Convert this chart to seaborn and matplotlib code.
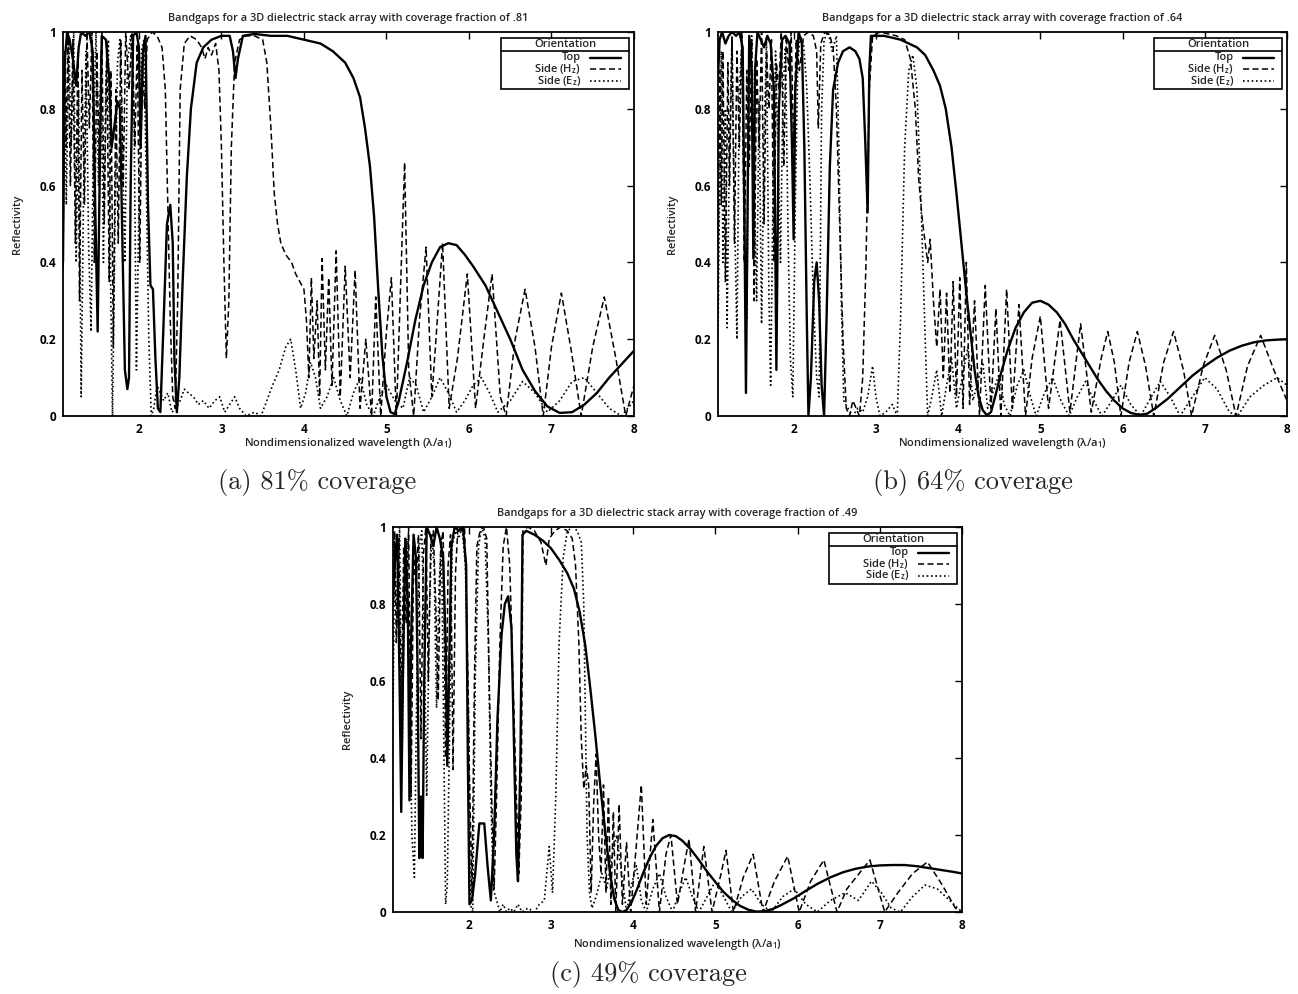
import matplotlib
matplotlib.use("Agg")
import matplotlib.pyplot as plt
import pandas as pd
import seaborn as sns
from matplotlib.lines import Line2D
from matplotlib.patches import Rectangle
from matplotlib.ticker import FuncFormatter, FixedLocator

# ---------------------------------------------------------------------------
# Reflectivity spectra (wavelength, reflectivity) for each orientation
# ---------------------------------------------------------------------------
TOP_81 = [
    (1.08, 0.40), (1.10, 0.92), (1.13, 1.00), (1.16, 0.98), (1.20, 0.93), (1.24, 0.86), (1.27, 0.96),
    (1.30, 1.00), (1.35, 0.99), (1.40, 1.00), (1.44, 0.95), (1.47, 0.55), (1.50, 0.22), (1.52, 0.55),
    (1.55, 0.99), (1.60, 0.98), (1.64, 0.88), (1.67, 0.70), (1.70, 0.75), (1.74, 0.82), (1.77, 0.80),
    (1.80, 0.45), (1.83, 0.12), (1.86, 0.07), (1.88, 0.10), (1.90, 0.60), (1.93, 0.99), (1.97, 1.00),
    (2.00, 0.96), (2.02, 0.70), (2.05, 0.95), (2.08, 0.99), (2.11, 0.55), (2.14, 0.34), (2.17, 0.33),
    (2.20, 0.15), (2.23, 0.02), (2.26, 0.01), (2.30, 0.25), (2.34, 0.50), (2.38, 0.55), (2.41, 0.45),
    (2.43, 0.15), (2.46, 0.01), (2.49, 0.10), (2.53, 0.35), (2.58, 0.62), (2.63, 0.80), (2.70, 0.92),
    (2.78, 0.96), (2.88, 0.98), (3.00, 0.99), (3.10, 0.99), (3.14, 0.95), (3.17, 0.88), (3.20, 0.93),
    (3.26, 0.99), (3.40, 0.995), (3.60, 0.99), (3.80, 0.99), (4.00, 0.98), (4.20, 0.97), (4.35, 0.95),
    (4.50, 0.92), (4.60, 0.88), (4.68, 0.83), (4.74, 0.75), (4.80, 0.65), (4.85, 0.52), (4.90, 0.33),
    (4.95, 0.16), (5.00, 0.05), (5.05, 0.01), (5.10, 0.005), (5.15, 0.04), (5.25, 0.14), (5.35, 0.25),
    (5.45, 0.34), (5.55, 0.40), (5.65, 0.44), (5.75, 0.45), (5.85, 0.445), (5.95, 0.42), (6.05, 0.39),
    (6.20, 0.34), (6.35, 0.27), (6.50, 0.20), (6.65, 0.12), (6.80, 0.065), (6.95, 0.025), (7.10, 0.008),
    (7.25, 0.01), (7.40, 0.03), (7.55, 0.06), (7.70, 0.10), (7.85, 0.135), (8.00, 0.17),
]
HZ_81 = [
    (1.08, 0.38), (1.10, 0.95), (1.12, 0.70), (1.14, 1.00), (1.17, 0.60), (1.20, 0.98), (1.23, 0.45),
    (1.26, 0.95), (1.28, 0.30), (1.31, 0.90), (1.34, 0.55), (1.37, 1.00), (1.40, 0.75), (1.43, 1.00),
    (1.46, 0.40), (1.49, 0.95), (1.52, 0.65), (1.55, 1.00), (1.58, 0.50), (1.61, 0.97), (1.64, 0.35),
    (1.66, 0.90), (1.69, 0.18), (1.72, 0.85), (1.75, 0.45), (1.78, 0.98), (1.81, 0.60), (1.84, 1.00),
    (1.88, 0.85), (1.92, 1.00), (1.95, 0.70), (1.98, 0.97), (2.01, 0.40), (2.04, 0.92), (2.07, 0.80),
    (2.10, 0.98), (2.16, 1.00), (2.22, 0.99), (2.28, 0.96), (2.32, 0.85), (2.35, 0.55), (2.38, 0.25),
    (2.41, 0.05), (2.44, 0.02), (2.47, 0.30), (2.50, 0.85), (2.55, 0.97), (2.62, 0.99), (2.70, 0.98),
    (2.76, 0.96), (2.80, 0.93), (2.84, 0.96), (2.88, 0.94), (2.93, 0.97), (2.97, 0.90), (3.00, 0.70),
    (3.03, 0.40), (3.06, 0.15), (3.09, 0.30), (3.12, 0.70), (3.16, 0.92), (3.22, 0.98), (3.30, 0.99),
    (3.40, 0.99), (3.50, 0.98), (3.55, 0.92), (3.60, 0.75), (3.64, 0.58), (3.68, 0.50), (3.72, 0.45),
    (3.78, 0.42), (3.85, 0.40), (3.90, 0.37), (3.95, 0.35), (4.00, 0.33), (4.03, 0.25), (4.06, 0.10),
    (4.09, 0.36), (4.12, 0.15), (4.16, 0.30), (4.19, 0.05), (4.22, 0.41), (4.26, 0.12), (4.30, 0.36),
    (4.34, 0.08), (4.39, 0.43), (4.44, 0.05), (4.50, 0.39), (4.56, 0.10), (4.62, 0.38), (4.68, 0.02),
    (4.75, 0.20), (4.82, 0.00), (4.87, 0.31), (4.93, 0.00), (5.00, 0.22), (5.06, 0.36), (5.12, 0.00),
    (5.18, 0.40), (5.22, 0.66), (5.27, 0.12), (5.33, 0.00), (5.40, 0.25), (5.48, 0.44), (5.55, 0.05),
    (5.60, 0.20), (5.68, 0.45), (5.76, 0.02), (5.86, 0.15), (5.98, 0.37), (6.08, 0.02), (6.18, 0.20),
    (6.28, 0.37), (6.38, 0.05), (6.45, 0.00), (6.56, 0.20), (6.68, 0.33), (6.80, 0.18), (6.90, 0.00),
    (7.00, 0.18), (7.12, 0.32), (7.24, 0.17), (7.36, 0.00), (7.50, 0.18), (7.64, 0.31), (7.78, 0.15),
    (7.90, 0.00), (8.00, 0.08),
]
EZ_81 = [
    (1.08, 0.45), (1.10, 0.90), (1.12, 0.55), (1.15, 0.98), (1.18, 0.70), (1.21, 1.00), (1.24, 0.40),
    (1.27, 0.85), (1.30, 0.05), (1.33, 0.60), (1.36, 0.95), (1.39, 0.45), (1.42, 0.22), (1.45, 0.75),
    (1.48, 1.00), (1.51, 0.60), (1.54, 0.95), (1.57, 0.40), (1.60, 0.88), (1.63, 0.98), (1.66, 0.30),
    (1.68, 0.00), (1.71, 0.50), (1.74, 0.92), (1.77, 0.98), (1.80, 0.70), (1.83, 0.40), (1.86, 0.92),
    (1.90, 0.99), (1.94, 0.80), (1.97, 0.12), (2.00, 0.55), (2.03, 0.95), (2.06, 0.98), (2.09, 0.60),
    (2.12, 0.20), (2.15, 0.00), (2.18, 0.02), (2.22, 0.08), (2.26, 0.06), (2.30, 0.04), (2.35, 0.06),
    (2.40, 0.01), (2.45, 0.02), (2.50, 0.04), (2.55, 0.07), (2.60, 0.06), (2.66, 0.05), (2.72, 0.03),
    (2.78, 0.04), (2.85, 0.02), (2.92, 0.04), (2.98, 0.05), (3.04, 0.01), (3.10, 0.03), (3.16, 0.05),
    (3.22, 0.02), (3.30, 0.00), (3.40, 0.01), (3.48, 0.00), (3.55, 0.04), (3.62, 0.08), (3.70, 0.12),
    (3.78, 0.18), (3.84, 0.20), (3.90, 0.12), (3.96, 0.02), (4.02, 0.06), (4.08, 0.14), (4.14, 0.10),
    (4.20, 0.02), (4.28, 0.05), (4.36, 0.10), (4.44, 0.04), (4.52, 0.00), (4.60, 0.06), (4.68, 0.10),
    (4.76, 0.03), (4.84, 0.00), (4.92, 0.05), (5.00, 0.08), (5.10, 0.04), (5.20, 0.02), (5.28, 0.10),
    (5.36, 0.08), (5.45, 0.01), (5.55, 0.05), (5.65, 0.10), (5.75, 0.06), (5.85, 0.01), (5.95, 0.04),
    (6.05, 0.08), (6.15, 0.10), (6.25, 0.06), (6.35, 0.01), (6.50, 0.04), (6.65, 0.09), (6.80, 0.06),
    (6.95, 0.01), (7.10, 0.04), (7.25, 0.09), (7.40, 0.10), (7.55, 0.06), (7.70, 0.02), (7.85, 0.00),
    (8.00, 0.04),
]

TOP_64 = [
    (1.08, 0.88), (1.10, 0.98), (1.13, 1.00), (1.17, 0.97), (1.21, 0.99), (1.25, 1.00), (1.30, 0.99),
    (1.34, 1.00), (1.38, 0.96), (1.40, 0.55), (1.42, 0.06), (1.44, 0.55), (1.46, 0.99), (1.49, 0.90),
    (1.51, 0.41), (1.53, 0.90), (1.56, 1.00), (1.60, 0.98), (1.64, 0.96), (1.68, 0.99), (1.72, 0.97),
    (1.76, 0.85), (1.79, 0.12), (1.82, 0.80), (1.86, 0.98), (1.90, 0.99), (1.95, 0.97), (1.98, 0.70),
    (2.00, 0.46), (2.02, 0.85), (2.06, 1.00), (2.10, 0.97), (2.13, 0.70), (2.16, 0.25), (2.18, 0.00),
    (2.21, 0.10), (2.25, 0.35), (2.28, 0.40), (2.31, 0.30), (2.34, 0.08), (2.37, 0.00), (2.40, 0.25),
    (2.44, 0.65), (2.48, 0.85), (2.54, 0.92), (2.60, 0.95), (2.68, 0.96), (2.75, 0.95), (2.80, 0.93),
    (2.84, 0.88), (2.87, 0.72), (2.90, 0.53), (2.92, 0.90), (2.94, 0.99), (3.00, 0.99), (3.10, 0.99),
    (3.20, 0.985), (3.30, 0.98), (3.40, 0.97), (3.50, 0.96), (3.60, 0.94), (3.70, 0.90), (3.78, 0.86),
    (3.85, 0.80), (3.92, 0.70), (3.98, 0.58), (4.04, 0.45), (4.10, 0.32), (4.15, 0.22), (4.20, 0.12),
    (4.25, 0.05), (4.30, 0.015), (4.35, 0.002), (4.40, 0.01), (4.45, 0.05), (4.52, 0.11), (4.60, 0.17),
    (4.70, 0.23), (4.80, 0.27), (4.90, 0.295), (5.00, 0.30), (5.10, 0.29), (5.20, 0.27), (5.30, 0.24),
    (5.40, 0.20), (5.50, 0.165), (5.60, 0.13), (5.70, 0.095), (5.80, 0.065), (5.90, 0.04), (6.00, 0.02),
    (6.10, 0.008), (6.20, 0.003), (6.30, 0.006), (6.40, 0.02), (6.55, 0.045), (6.70, 0.075), (6.85, 0.105),
    (7.00, 0.13), (7.15, 0.152), (7.30, 0.17), (7.45, 0.183), (7.60, 0.192), (7.75, 0.197), (7.90, 0.199),
    (8.00, 0.20),
]
HZ_64 = [
    (1.08, 0.30), (1.10, 0.90), (1.12, 0.55), (1.14, 0.95), (1.17, 0.35), (1.20, 0.92), (1.22, 0.60),
    (1.25, 0.98), (1.28, 0.45), (1.31, 0.95), (1.34, 0.70), (1.37, 1.00), (1.40, 0.40), (1.43, 0.90),
    (1.46, 0.65), (1.49, 0.98), (1.52, 0.30), (1.55, 0.93), (1.58, 0.70), (1.61, 1.00), (1.64, 0.50),
    (1.67, 0.95), (1.70, 0.80), (1.73, 0.98), (1.76, 0.40), (1.79, 0.92), (1.82, 0.85), (1.85, 1.00),
    (1.88, 0.65), (1.91, 0.99), (1.94, 0.90), (1.97, 1.00), (2.00, 0.70), (2.03, 0.98), (2.07, 0.90),
    (2.12, 0.99), (2.18, 1.00), (2.24, 0.99), (2.28, 0.95), (2.30, 0.75), (2.33, 0.97), (2.38, 1.00),
    (2.44, 0.99), (2.48, 0.96), (2.52, 0.80), (2.56, 0.50), (2.60, 0.20), (2.64, 0.02), (2.68, 0.00),
    (2.72, 0.04), (2.76, 0.02), (2.80, 0.00), (2.84, 0.10), (2.88, 0.40), (2.92, 0.85), (2.96, 0.99),
    (3.05, 1.00), (3.15, 0.995), (3.25, 0.99), (3.35, 0.98), (3.42, 0.93), (3.48, 0.80), (3.52, 0.62),
    (3.56, 0.52), (3.60, 0.45), (3.63, 0.40), (3.66, 0.46), (3.70, 0.30), (3.74, 0.18), (3.78, 0.33),
    (3.82, 0.10), (3.86, 0.32), (3.90, 0.06), (3.94, 0.35), (3.98, 0.05), (4.02, 0.36), (4.06, 0.02),
    (4.10, 0.40), (4.14, 0.03), (4.20, 0.30), (4.26, 0.00), (4.33, 0.34), (4.40, 0.02), (4.46, 0.28),
    (4.52, 0.00), (4.59, 0.33), (4.66, 0.02), (4.74, 0.29), (4.82, 0.00), (4.90, 0.15), (5.00, 0.26),
    (5.10, 0.02), (5.24, 0.25), (5.36, 0.01), (5.49, 0.24), (5.62, 0.01), (5.74, 0.15), (5.82, 0.22),
    (5.90, 0.14), (5.98, 0.00), (6.08, 0.14), (6.18, 0.22), (6.28, 0.13), (6.38, 0.00), (6.50, 0.14),
    (6.62, 0.22), (6.74, 0.12), (6.84, 0.00), (6.98, 0.13), (7.12, 0.21), (7.26, 0.12), (7.38, 0.00),
    (7.52, 0.13), (7.68, 0.21), (7.84, 0.12), (8.00, 0.04),
]
EZ_64 = [
    (1.08, 0.20), (1.10, 0.60), (1.12, 0.95), (1.14, 0.40), (1.17, 0.80), (1.19, 0.23), (1.22, 0.70),
    (1.25, 0.99), (1.28, 0.55), (1.31, 0.20), (1.34, 0.85), (1.37, 0.97), (1.40, 0.50), (1.43, 0.25),
    (1.46, 0.88), (1.49, 0.99), (1.52, 0.60), (1.55, 0.30), (1.58, 0.82), (1.61, 0.24), (1.64, 0.72),
    (1.67, 0.98), (1.70, 0.30), (1.72, 0.08), (1.75, 0.60), (1.78, 0.95), (1.81, 0.70), (1.84, 0.40),
    (1.87, 0.85), (1.90, 0.96), (1.93, 0.50), (1.96, 0.15), (1.99, 0.05), (2.02, 0.55), (2.05, 0.92),
    (2.08, 0.99), (2.12, 0.97), (2.16, 0.85), (2.20, 0.60), (2.24, 0.30), (2.28, 0.10), (2.31, 0.05),
    (2.34, 0.80), (2.37, 0.98), (2.42, 1.00), (2.47, 0.95), (2.52, 0.99), (2.55, 0.70), (2.58, 0.30),
    (2.61, 0.04), (2.66, 0.02), (2.72, 0.00), (2.78, 0.02), (2.84, 0.01), (2.90, 0.05), (2.96, 0.13),
    (3.00, 0.05), (3.05, 0.00), (3.12, 0.01), (3.20, 0.03), (3.26, 0.00), (3.30, 0.25), (3.35, 0.70),
    (3.40, 0.90), (3.45, 0.94), (3.50, 0.85), (3.55, 0.55), (3.60, 0.20), (3.63, 0.00), (3.68, 0.05),
    (3.74, 0.12), (3.80, 0.00), (3.86, 0.08), (3.92, 0.15), (3.98, 0.02), (4.05, 0.10), (4.12, 0.18),
    (4.18, 0.04), (4.24, 0.09), (4.30, 0.14), (4.36, 0.02), (4.42, 0.06), (4.50, 0.11), (4.56, 0.03),
    (4.63, 0.00), (4.72, 0.08), (4.80, 0.12), (4.88, 0.05), (4.95, 0.00), (5.05, 0.06), (5.15, 0.10),
    (5.25, 0.04), (5.35, 0.00), (5.45, 0.05), (5.55, 0.09), (5.65, 0.04), (5.75, 0.00), (5.87, 0.04),
    (5.98, 0.08), (6.10, 0.03), (6.22, 0.00), (6.35, 0.05), (6.46, 0.09), (6.58, 0.05), (6.70, 0.00),
    (6.85, 0.05), (7.00, 0.10), (7.15, 0.07), (7.30, 0.01), (7.40, 0.00), (7.55, 0.05), (7.72, 0.08),
    (7.88, 0.10), (8.00, 0.08),
]

TOP_49 = [
    (1.08, 0.80), (1.10, 0.90), (1.13, 0.98), (1.16, 0.60), (1.18, 0.26), (1.20, 0.60), (1.23, 0.97),
    (1.26, 0.80), (1.28, 0.29), (1.30, 0.70), (1.33, 0.98), (1.36, 0.92), (1.38, 0.60), (1.40, 0.14),
    (1.42, 0.30), (1.44, 0.14), (1.46, 0.60), (1.49, 1.00), (1.53, 0.98), (1.57, 0.95), (1.61, 1.00),
    (1.65, 0.97), (1.69, 0.92), (1.72, 0.70), (1.74, 0.38), (1.76, 0.60), (1.79, 0.95), (1.83, 1.00),
    (1.88, 0.99), (1.93, 1.00), (1.97, 0.90), (1.99, 0.40), (2.01, 0.02), (2.04, 0.03), (2.08, 0.10),
    (2.13, 0.23), (2.19, 0.23), (2.23, 0.12), (2.27, 0.03), (2.31, 0.20), (2.35, 0.50), (2.40, 0.72),
    (2.44, 0.80), (2.48, 0.82), (2.52, 0.74), (2.55, 0.45), (2.58, 0.15), (2.60, 0.08), (2.63, 0.40),
    (2.655, 0.98), (2.70, 0.99), (2.80, 0.98), (2.90, 0.965), (3.00, 0.945), (3.10, 0.915), (3.20, 0.88),
    (3.28, 0.84), (3.35, 0.78), (3.42, 0.69), (3.48, 0.58), (3.54, 0.46), (3.60, 0.33), (3.66, 0.21),
    (3.72, 0.10), (3.77, 0.035), (3.82, 0.005), (3.87, 0.00), (3.92, 0.005), (3.98, 0.025), (4.05, 0.06),
    (4.12, 0.10), (4.20, 0.14), (4.28, 0.172), (4.36, 0.192), (4.44, 0.20), (4.52, 0.197), (4.60, 0.185),
    (4.70, 0.163), (4.80, 0.135), (4.90, 0.105), (5.00, 0.078), (5.10, 0.052), (5.20, 0.032), (5.30, 0.016),
    (5.40, 0.006), (5.50, 0.001), (5.60, 0.002), (5.70, 0.008), (5.80, 0.018), (5.95, 0.035), (6.10, 0.055),
    (6.25, 0.074), (6.40, 0.09), (6.55, 0.103), (6.70, 0.112), (6.85, 0.118), (7.00, 0.121), (7.15, 0.122),
    (7.30, 0.122), (7.45, 0.119), (7.60, 0.114), (7.75, 0.109), (7.90, 0.104), (8.00, 0.10),
]
HZ_49 = [
    (1.08, 0.85), (1.10, 0.99), (1.12, 0.70), (1.15, 0.97), (1.18, 0.50), (1.21, 0.95), (1.24, 0.75),
    (1.27, 1.00), (1.30, 0.30), (1.33, 0.92), (1.36, 0.85), (1.39, 0.98), (1.42, 0.45), (1.45, 0.93),
    (1.48, 1.00), (1.51, 0.60), (1.54, 0.97), (1.57, 0.99), (1.60, 0.80), (1.63, 0.55), (1.66, 0.95),
    (1.69, 0.99), (1.72, 0.40), (1.75, 0.90), (1.78, 0.98), (1.81, 0.37), (1.84, 0.88), (1.87, 1.00),
    (1.91, 0.99), (1.95, 1.00), (1.98, 0.75), (2.01, 0.35), (2.04, 0.05), (2.07, 0.60), (2.10, 0.95),
    (2.14, 0.99), (2.18, 1.00), (2.22, 0.97), (2.25, 0.60), (2.28, 0.30), (2.31, 0.06), (2.34, 0.30),
    (2.38, 0.70), (2.42, 0.95), (2.46, 1.00), (2.50, 0.90), (2.54, 0.60), (2.58, 0.30), (2.61, 0.10),
    (2.64, 0.30), (2.66, 0.99), (2.72, 1.00), (2.80, 0.99), (2.88, 0.96), (2.94, 0.90), (2.98, 0.97),
    (3.05, 0.99), (3.12, 1.00), (3.20, 0.99), (3.26, 0.97), (3.30, 0.90), (3.34, 0.70), (3.37, 0.45),
    (3.40, 0.32), (3.43, 0.38), (3.46, 0.33), (3.49, 0.05), (3.52, 0.28), (3.55, 0.41), (3.58, 0.20),
    (3.61, 0.10), (3.64, 0.33), (3.67, 0.05), (3.70, 0.30), (3.73, 0.02), (3.76, 0.26), (3.79, 0.00),
    (3.83, 0.28), (3.87, 0.02), (3.92, 0.18), (3.97, 0.00), (4.03, 0.15), (4.10, 0.33), (4.16, 0.02),
    (4.24, 0.24), (4.32, 0.00), (4.40, 0.15), (4.46, 0.20), (4.54, 0.02), (4.62, 0.12), (4.68, 0.19),
    (4.76, 0.00), (4.86, 0.17), (4.96, 0.00), (5.07, 0.10), (5.13, 0.16), (5.22, 0.00), (5.34, 0.09),
    (5.46, 0.15), (5.58, 0.00), (5.72, 0.08), (5.88, 0.145), (6.02, 0.00), (6.16, 0.08), (6.32, 0.135),
    (6.48, 0.00), (6.60, 0.06), (6.88, 0.135), (7.06, 0.00), (7.22, 0.05), (7.40, 0.10), (7.58, 0.13),
    (7.76, 0.07), (7.92, 0.01), (8.00, 0.00),
]
EZ_49 = [
    (1.08, 0.50), (1.10, 0.95), (1.13, 0.75), (1.16, 1.00), (1.19, 0.40), (1.22, 0.85), (1.25, 0.97),
    (1.28, 0.60), (1.31, 0.20), (1.34, 0.09), (1.37, 0.60), (1.40, 0.95), (1.43, 0.99), (1.46, 0.70),
    (1.49, 0.30), (1.52, 0.75), (1.55, 0.98), (1.58, 0.90), (1.61, 0.53), (1.64, 0.85), (1.67, 0.97),
    (1.70, 0.40), (1.72, 0.02), (1.74, 0.07), (1.77, 0.50), (1.80, 0.95), (1.84, 0.99), (1.88, 0.97),
    (1.92, 1.00), (1.96, 0.90), (2.00, 0.50), (2.02, 0.02), (2.05, 0.00), (2.08, 0.60), (2.12, 0.95),
    (2.16, 1.00), (2.20, 0.97), (2.24, 0.70), (2.27, 0.30), (2.30, 0.06), (2.34, 0.03), (2.38, 0.00),
    (2.42, 0.02), (2.46, 0.00), (2.50, 0.01), (2.55, 0.00), (2.60, 0.02), (2.65, 0.00), (2.72, 0.01),
    (2.80, 0.00), (2.86, 0.02), (2.92, 0.03), (2.98, 0.17), (3.02, 0.05), (3.06, 0.30), (3.10, 0.70),
    (3.15, 0.92), (3.20, 0.99), (3.27, 1.00), (3.32, 0.99), (3.37, 0.96), (3.40, 0.80), (3.42, 0.50),
    (3.44, 0.20), (3.47, 0.05), (3.50, 0.01), (3.55, 0.04), (3.62, 0.10), (3.68, 0.06), (3.74, 0.14),
    (3.80, 0.20), (3.86, 0.10), (3.92, 0.00), (3.98, 0.07), (4.04, 0.12), (4.10, 0.03), (4.16, 0.00),
    (4.24, 0.06), (4.32, 0.10), (4.40, 0.04), (4.48, 0.00), (4.56, 0.05), (4.64, 0.09), (4.72, 0.04),
    (4.80, 0.00), (4.90, 0.04), (5.00, 0.08), (5.10, 0.04), (5.20, 0.00), (5.32, 0.04), (5.44, 0.06),
    (5.56, 0.02), (5.68, 0.00), (5.82, 0.04), (5.96, 0.06), (6.10, 0.02), (6.24, 0.00), (6.40, 0.03),
    (6.58, 0.05), (6.74, 0.03), (6.90, 0.08), (7.02, 0.05), (7.14, 0.01), (7.25, 0.00), (7.40, 0.04),
    (7.55, 0.07), (7.70, 0.06), (7.85, 0.03), (8.00, 0.00),
]

ORIENTATIONS = ["Top", "Side (H$_z$)", "Side (E$_z$)"]
COVERAGES = [".81", ".64", ".49"]
CAPTIONS = ["(a) 81% coverage", "(b) 64% coverage", "(c) 49% coverage"]
X_TICKS = [2, 3, 4, 5, 6, 7, 8]
Y_TICKS = [0, 0.2, 0.4, 0.6, 0.8, 1]

SPECTRA = {
    ".81": [TOP_81, HZ_81, EZ_81],
    ".64": [TOP_64, HZ_64, EZ_64],
    ".49": [TOP_49, HZ_49, EZ_49],
}

# line styling per orientation
DASHES = {"Top": "", "Side (H$_z$)": (4.0, 2.2), "Side (E$_z$)": (1.0, 1.6)}
WIDTHS = {"Top": 1.7, "Side (H$_z$)": 1.1, "Side (E$_z$)": 1.2}

sns.set_theme(style="white")
plt.rcParams["font.family"] = ["Open Sans", "DejaVu Sans"]
plt.rcParams["mathtext.default"] = "regular"

FIG_W, FIG_H = 1298, 994
fig = plt.figure(figsize=(FIG_W / 100, FIG_H / 100), dpi=100)

# axes boxes in pixels: left, top, right, bottom
BOXES = [(63, 32, 634, 416), (718, 32, 1287, 416), (393, 527, 962, 912)]
XLABEL_PADS = [0, 0, 4]
axes = [fig.add_axes([l / FIG_W, 1 - b / FIG_H, (r - l) / FIG_W, (b - t) / FIG_H])
        for l, t, r, b in BOXES]


def spectrum_frame(coverage):
    rows = []
    for name, series in zip(ORIENTATIONS, SPECTRA[coverage]):
        for x, y in series:
            rows.append({"wavelength": x, "reflectivity": y, "orientation": name})
    return pd.DataFrame(rows)


def key_box(ax, box):
    """gnuplot-style key: framed, headed by a ruled title, labels right-aligned before samples."""
    l, t, r, b = box
    w, h = r - l, b - t

    def fx(dx):  # pixels left of the right spine -> axes fraction
        return 1 - dx / w

    def fy(dy):  # pixels below the top spine -> axes fraction
        return 1 - dy / h

    kw = dict(transform=ax.transAxes, clip_on=False, zorder=10)
    ax.add_patch(Rectangle((fx(133), fy(57)), 128 / w, 51 / h, facecolor="white",
                           edgecolor="black", lw=1.2, **kw))
    ax.add_line(Line2D([fx(133), fx(5)], [fy(19), fy(19)], color="black", lw=1.2, **kw))
    ax.text(fx(69), fy(12.5), "Orientation", ha="center", va="center", fontsize=8,
            fontweight="semibold", **kw)
    for i, o in enumerate(ORIENTATIONS):
        yy = fy(25.5 + 11.5 * i)
        ax.text(fx(53), yy, o, ha="right", va="center", fontsize=8, fontweight="semibold", **kw)
        ln = Line2D([fx(44), fx(13)], [yy, yy], color="black", lw=WIDTHS[o], **kw)
        if DASHES[o]:
            ln.set_dashes(DASHES[o])
        ax.add_line(ln)


for ax, box, cov, xpad in zip(axes, BOXES, COVERAGES, XLABEL_PADS):
    df = spectrum_frame(cov)
    sns.lineplot(
        data=df, x="wavelength", y="reflectivity",
        style="orientation", style_order=ORIENTATIONS, dashes=DASHES,
        size="orientation", size_order=ORIENTATIONS, sizes=WIDTHS,
        color="black", estimator=None, sort=False, legend=False, ax=ax,
    )
    ax.set_xlim(1.08, 8)
    ax.set_ylim(0, 1)
    ax.xaxis.set_major_locator(FixedLocator(X_TICKS))
    ax.yaxis.set_major_locator(FixedLocator(Y_TICKS))
    ax.yaxis.set_major_formatter(FuncFormatter(lambda v, p: f"{v:g}"))
    ax.tick_params(direction="in", top=True, right=True, length=5, width=1.0,
                   labelsize=8.5, pad=5, colors="black")
    for lab in ax.get_xticklabels() + ax.get_yticklabels():
        lab.set_fontweight("bold")
    for sp in ax.spines.values():
        sp.set_color("black")
        sp.set_linewidth(1.3)
    ax.set_title(f"Bandgaps for a 3D dielectric stack array with coverage fraction of {cov}",
                 fontsize=7.8, pad=8, fontweight="semibold")
    ax.set_xlabel(r"Nondimensionalized wavelength ($\lambda$/a$_1$)", fontsize=8,
                  labelpad=xpad, fontweight="semibold")
    ax.set_ylabel("Reflectivity", fontsize=8, labelpad=12, fontweight="semibold")
    key_box(ax, box)

# captions under each panel
fig.text(317 / FIG_W, 1 - 482 / FIG_H, CAPTIONS[0], family="cmr10", fontsize=19, ha="center", va="center")
fig.text(973 / FIG_W, 1 - 482 / FIG_H, CAPTIONS[1], family="cmr10", fontsize=19, ha="center", va="center")
fig.text(648 / FIG_W, 1 - 975 / FIG_H, CAPTIONS[2], family="cmr10", fontsize=19, ha="center", va="center")

fig.savefig("out.png", dpi=100, facecolor="white")
